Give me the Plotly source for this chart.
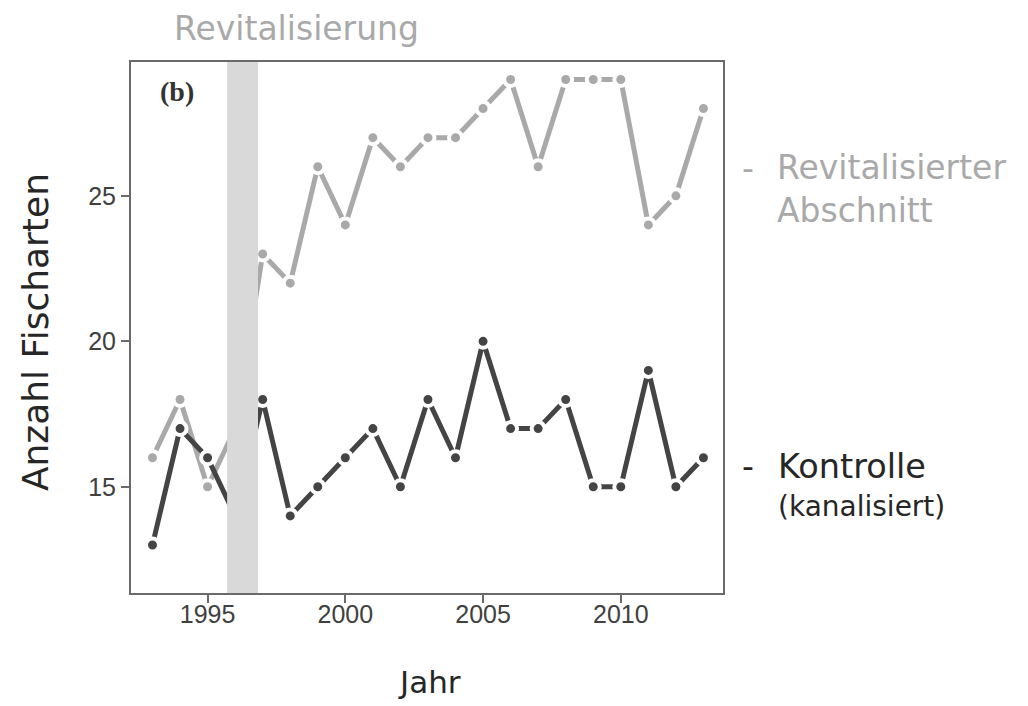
import plotly.graph_objects as go

years = list(range(1993, 2014))
revitalisiert = [16, 18, 15, 17, 23, 22, 26, 24, 27, 26, 27, 27, 28, 29, 26, 29, 29, 29, 24, 25, 28]
kontrolle = [13, 17, 16, 14, 18, 14, 15, 16, 17, 15, 18, 16, 20, 17, 17, 18, 15, 15, 19, 15, 16]
y_ticks = [15, 20, 25]
x_ticks = [1995, 2000, 2005, 2010]
x_range = [1992.22, 2013.71]
y_range = [11.35, 29.6]
revit_start, revit_end = 1995.71, 1996.83

LIGHT = "#a9a9aa"
DARK = "#444444"
BIG = "DejaVu Sans"

fig = go.Figure()
for vals, col in [(revitalisiert, LIGHT), (kontrolle, DARK)]:
    fig.add_trace(go.Scatter(
        x=years, y=vals, mode="lines+markers",
        line=dict(color=col, width=5),
        marker=dict(color=col, size=13, line=dict(color="white", width=4)),
        showlegend=False, hoverinfo="x+y",
    ))

fig.add_shape(type="rect", xref="x", yref="y", x0=revit_start, x1=revit_end,
              y0=y_range[0], y1=y_range[1], fillcolor="#d9d9d9", line_width=0,
              layer="above")

axis_common = dict(showline=True, mirror=True, linecolor="#6a6a6a", linewidth=2,
                   ticks="outside", ticklen=8, tickwidth=1.5, tickcolor="#6a6a6a",
                   showgrid=False, zeroline=False,
                   tickfont=dict(family="Liberation Sans", size=25, color="#404040"))
fig.update_xaxes(range=x_range, tickvals=x_ticks, ticklabelstandoff=-10, **axis_common)
fig.update_yaxes(range=y_range, tickvals=y_ticks, **axis_common)

def ann(text, x, y, size, color, xanchor="center", family=BIG, **kw):
    fig.add_annotation(text=text, x=x, y=y, xref="paper", yref="paper",
                       showarrow=False, xanchor=xanchor, yanchor="middle",
                       font=dict(family=family, size=size, color=color), **kw)

ann("Revitalisierung", 0.280, 1.064, 33, LIGHT)
ann("-", 1.029, 0.800, 33, LIGHT, xanchor="left")
ann("Revitalisierter<br>Abschnitt", 1.088, 0.761, 33, LIGHT, xanchor="left", align="left")
ann("-", 1.029, 0.239, 33, "#262626", xanchor="left")
ann("Kontrolle", 1.090, 0.239, 33.5, "#262626", xanchor="left")
ann("(kanalisiert)", 1.090, 0.162, 28, "#262626", xanchor="left")
ann("Anzahl Fischarten", -0.162, 0.4915, 36, "#262626", textangle=-90)
ann("Jahr", 0.505, -0.168, 31, "#262626")
ann("<b>(b)</b>", 0.077, 0.944, 28, "#333333", family="Liberation Serif")

fig.update_layout(width=1020, height=698, margin=dict(l=123, r=305, t=54, b=113),
                  paper_bgcolor="white", plot_bgcolor="white")
fig.write_html("out.html")
